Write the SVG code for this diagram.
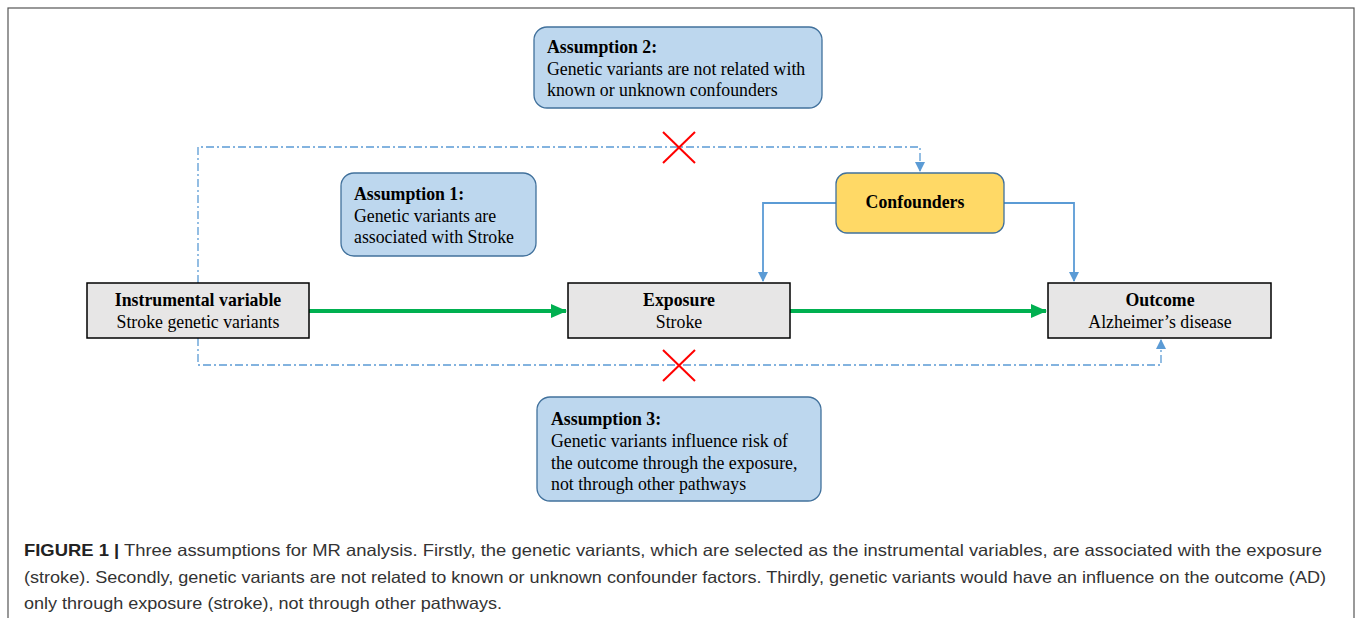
<svg xmlns="http://www.w3.org/2000/svg" width="1357" height="618" viewBox="0 0 1357 618">
<style>
.serif{font-family:"Liberation Serif","Times New Roman",serif;font-size:17.8px;fill:#000}
.b{font-weight:bold}
.assume{fill:#BDD7EE;stroke:#41719C;stroke-width:1.3}
.node{fill:#E7E6E6;stroke:#000;stroke-width:1.5}
.dd{fill:none;stroke:#5B9BD5;stroke-width:1.3;stroke-dasharray:8 3 2 3}
.solid{fill:none;stroke:#5B9BD5;stroke-width:1.8}
.green{fill:none;stroke:#00B050;stroke-width:4}
.x{stroke:#FF0000;stroke-width:2}
.cap{font-family:"Liberation Sans",Arial,sans-serif;font-size:16.5px;fill:#333}
</style>
<defs>
<marker id="ab" markerWidth="10" markerHeight="10" refX="9" refY="5" orient="auto" markerUnits="userSpaceOnUse"><path d="M0,0 L10,5 L0,10 z" fill="#5B9BD5"/></marker>
<marker id="ag" markerWidth="16" markerHeight="14" refX="15" refY="7" orient="auto" markerUnits="userSpaceOnUse"><path d="M0,0 L16,7 L0,14 z" fill="#00B050"/></marker>
</defs>
<rect x="8" y="8" width="1346" height="620" fill="#fff" stroke="#555" stroke-width="1.2"/>

<g id="connectors">
<path class="green" d="M309,311 L566,311" marker-end="url(#ag)"/>
<path class="green" d="M790,311 L1046,311" marker-end="url(#ag)"/>
<path class="dd" d="M198,283 L198,147 L920,147 L920,171" marker-end="url(#ab)"/>
<path class="dd" d="M198,338 L198,365 L1161,365 L1161,340" marker-end="url(#ab)"/>
<path class="solid" d="M836,203 L763,203 L763,281" marker-end="url(#ab)"/>
<path class="solid" d="M1004,203 L1074,203 L1074,281" marker-end="url(#ab)"/>
<g id="x1"><line class="x" x1="663" y1="132" x2="695" y2="163"/><line class="x" x1="695" y1="132" x2="663" y2="163"/></g>
<g id="x2"><line class="x" x1="663" y1="350" x2="695" y2="381"/><line class="x" x1="695" y1="350" x2="663" y2="381"/></g>
</g>

<g id="assumption2">
<rect class="assume" x="534" y="27" width="288" height="81" rx="13"/>
<text class="serif b" x="547" y="53">Assumption 2:</text>
<text class="serif" x="547" y="75">Genetic variants are not related with</text>
<text class="serif" x="547" y="96">known or unknown confounders</text>
</g>

<g id="assumption1">
<rect class="assume" x="341" y="173" width="195" height="83" rx="13"/>
<text class="serif b" x="354" y="200">Assumption 1:</text>
<text class="serif" x="354" y="222">Genetic variants are</text>
<text class="serif" x="354" y="243">associated with Stroke</text>
</g>

<g id="confounders">
<rect x="836" y="173" width="168" height="60" rx="11" fill="#FFD966" stroke="#41719C" stroke-width="1.3"/>
<text class="serif b" x="915" y="208" text-anchor="middle">Confounders</text>
</g>

<g id="instrumental">
<rect class="node" x="87" y="283" width="222" height="55"/>
<text class="serif b" x="198" y="306" text-anchor="middle">Instrumental variable</text>
<text class="serif" x="198" y="328" text-anchor="middle">Stroke genetic variants</text>
</g>

<g id="exposure">
<rect class="node" x="568" y="283" width="222" height="55"/>
<text class="serif b" x="679" y="306" text-anchor="middle">Exposure</text>
<text class="serif" x="679" y="328" text-anchor="middle">Stroke</text>
</g>

<g id="outcome">
<rect class="node" x="1048" y="283" width="223" height="55"/>
<text class="serif b" x="1160" y="306" text-anchor="middle">Outcome</text>
<text class="serif" x="1160" y="328" text-anchor="middle">Alzheimer’s disease</text>
</g>

<g id="assumption3">
<rect class="assume" x="537" y="397" width="284" height="104" rx="13"/>
<text class="serif b" x="551" y="425">Assumption 3:</text>
<text class="serif" x="551" y="447">Genetic variants influence risk of</text>
<text class="serif" x="551" y="469">the outcome through the exposure,</text>
<text class="serif" x="551" y="490">not through other pathways</text>
</g>

<g id="caption">
<text class="cap" x="24" y="556" textLength="1298" lengthAdjust="spacingAndGlyphs"><tspan font-weight="bold" fill="#222">FIGURE 1 |</tspan> Three assumptions for MR analysis. Firstly, the genetic variants, which are selected as the instrumental variables, are associated with the exposure</text>
<text class="cap" x="24" y="583" textLength="1302" lengthAdjust="spacingAndGlyphs">(stroke). Secondly, genetic variants are not related to known or unknown confounder factors. Thirdly, genetic variants would have an influence on the outcome (AD)</text>
<text class="cap" x="24" y="609" textLength="478" lengthAdjust="spacingAndGlyphs">only through exposure (stroke), not through other pathways.</text>
</g>
</svg>
